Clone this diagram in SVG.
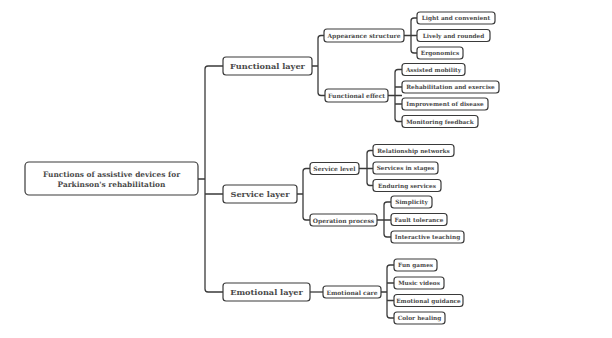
<svg xmlns="http://www.w3.org/2000/svg" width="612" height="338" viewBox="0 0 612 338">
<style>
.b{fill:#fff;stroke:#3a3a3a;stroke-width:1.2}
.t{font-family:"DejaVu Serif",serif;font-weight:bold;fill:#4a4a4a;text-anchor:middle;dominant-baseline:central}
.r{font-size:7.4px}
.l1{font-size:8.2px}
.l2{font-size:6px}
.l3{font-size:5.75px}
.c{fill:none;stroke:#3a3a3a;stroke-width:1.3}
</style>
<rect width="612" height="338" fill="#fff"/>
<g id="connectors" class="c">
<path d="M198,179H205M223,66H208Q205,66 205,69V289Q205,292 208,292H223M205,194H223"/>
<path d="M312,66H318M324,35.5H321Q318,35.5 318,38.5V92.5Q318,95.5 321,95.5H325"/>
<path d="M404,35.5H417M417,18H414Q411,18 411,21V50Q411,53 414,53H417"/>
<path d="M388,95.5H402M402,69.5H398Q395,69.5 395,72.5V118.5Q395,121.5 398,121.5H402M395,87H402M395,104H402"/>
<path d="M297,194H303M310,168.5H306Q303,168.5 303,171.5V217Q303,220 306,220H310"/>
<path d="M359,168.5H373M373,150.5H370Q367,150.5 367,153.5V182.5Q367,185.5 370,185.5H373"/>
<path d="M377,220H391M391,202H387Q384,202 384,205V234Q384,237 387,237H391"/>
<path d="M310,292H323"/>
<path d="M381,292H387M394,265H390Q387,265 387,268V315Q387,318 390,318H394M387,283H394M387,300.5H394"/>
</g>
<g id="root"><rect class="b" x="25" y="162" width="173" height="33" rx="4"/><text class="t r" x="111.5" y="174">Functions of assistive devices for</text><text class="t r" x="111.5" y="184.5">Parkinson's rehabilitation</text></g>
<g id="functional-layer"><rect class="b" x="223" y="57" width="89" height="18" rx="3"/><text class="t l1" x="267.5" y="66">Functional layer</text></g>
<g id="service-layer"><rect class="b" x="223" y="185" width="74" height="18" rx="3"/><text class="t l1" x="260" y="194">Service layer</text></g>
<g id="emotional-layer"><rect class="b" x="223" y="283" width="87" height="18" rx="3"/><text class="t l1" x="266.5" y="292">Emotional layer</text></g>
<g id="appearance-structure"><rect class="b" x="324" y="29" width="80" height="13" rx="3"/><text class="t l2" x="364" y="35.5">Appearance structure</text></g>
<g id="functional-effect"><rect class="b" x="325" y="89" width="63" height="13" rx="3"/><text class="t l2" x="356.5" y="95.5">Functional effect</text></g>
<g id="service-level"><rect class="b" x="310" y="162.5" width="49" height="12" rx="3"/><text class="t l2" x="334.5" y="168.5">Service level</text></g>
<g id="operation-process"><rect class="b" x="310" y="214" width="67" height="12" rx="3"/><text class="t l2" x="343.5" y="220">Operation process</text></g>
<g id="emotional-care"><rect class="b" x="323" y="286" width="58" height="12" rx="3"/><text class="t l2" x="352" y="292">Emotional care</text></g>
<g id="light"><rect class="b" x="417" y="12" width="78" height="12" rx="3"/><text class="t l3" x="456" y="18">Light and convenient</text></g>
<g id="lively"><rect class="b" x="417" y="29.5" width="73" height="12" rx="3"/><text class="t l3" x="453.5" y="35.5">Lively and rounded</text></g>
<g id="ergonomics"><rect class="b" x="417" y="47" width="46" height="12" rx="3"/><text class="t l3" x="440" y="53">Ergonomics</text></g>
<g id="assisted"><rect class="b" x="402" y="63.5" width="63" height="12" rx="3"/><text class="t l3" x="433.5" y="69.5">Assisted mobility</text></g>
<g id="rehab"><rect class="b" x="402" y="81" width="97" height="12" rx="3"/><text class="t l3" x="450.5" y="87">Rehabilitation and exercise</text></g>
<g id="improvement"><rect class="b" x="402" y="98" width="86" height="12" rx="3"/><text class="t l3" x="445" y="104">Improvement of disease</text></g>
<g id="monitoring"><rect class="b" x="402" y="115.5" width="76" height="12" rx="3"/><text class="t l3" x="440" y="121.5">Monitoring feedback</text></g>
<g id="relationship"><rect class="b" x="373" y="144.5" width="81" height="12" rx="3"/><text class="t l3" x="413.5" y="150.5">Relationship networks</text></g>
<g id="stages"><rect class="b" x="373" y="162" width="65" height="12" rx="3"/><text class="t l3" x="405.5" y="168">Services in stages</text></g>
<g id="enduring"><rect class="b" x="373" y="179.5" width="68" height="12" rx="3"/><text class="t l3" x="407" y="185.5">Enduring services</text></g>
<g id="simplicity"><rect class="b" x="391" y="196" width="41" height="12" rx="3"/><text class="t l3" x="411.5" y="202">Simplicity</text></g>
<g id="fault"><rect class="b" x="391" y="213.5" width="56" height="12" rx="3"/><text class="t l3" x="419" y="219.5">Fault tolerance</text></g>
<g id="interactive"><rect class="b" x="391" y="231" width="73" height="12" rx="3"/><text class="t l3" x="427.5" y="237">Interactive teaching</text></g>
<g id="fun"><rect class="b" x="394" y="259" width="43" height="12" rx="3"/><text class="t l3" x="415.5" y="265">Fun games</text></g>
<g id="music"><rect class="b" x="394" y="277" width="50" height="12" rx="3"/><text class="t l3" x="419" y="283">Music videos</text></g>
<g id="guidance"><rect class="b" x="394" y="294.5" width="69" height="12" rx="3"/><text class="t l3" x="428.5" y="300.5">Emotional guidance</text></g>
<g id="color"><rect class="b" x="394" y="312" width="51" height="12" rx="3"/><text class="t l3" x="419.5" y="318">Color healing</text></g>
</svg>
